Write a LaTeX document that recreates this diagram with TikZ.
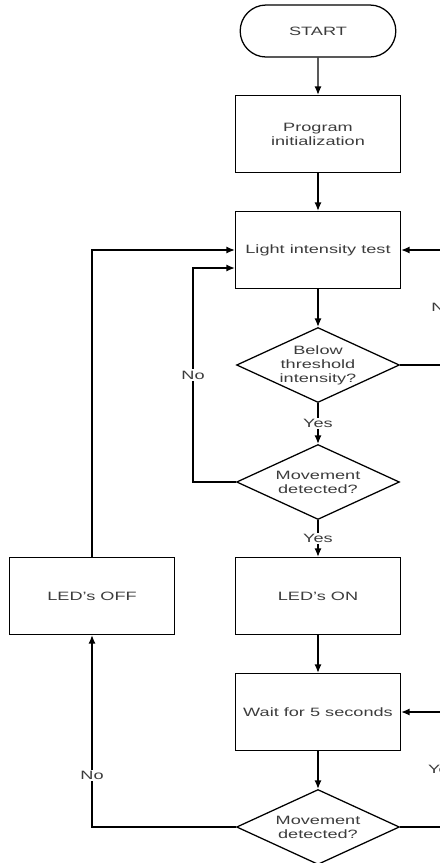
\documentclass[tikz,border=0pt]{standalone}
\usepackage{fontspec}
\setmainfont{Liberation Sans}[FakeStretch=1.5]
\usetikzlibrary{shapes.geometric,shapes.misc,arrows.meta}
\definecolor{txtgray}{HTML}{3C3C3C}
\begin{document}
\begin{tikzpicture}[x=0.025cm,y=-0.025cm,
	every node/.style={font=\fontsize{8.6}{10}\selectfont,text=txtgray,align=center},
	term/.style={draw,rounded rectangle,line width=0.9pt,minimum width=4.125cm,minimum height=1.3cm},
	proc/.style={draw,rectangle,line width=0.9pt,minimum width=4.125cm,minimum height=1.925cm},
	dec/.style={draw,diamond,aspect=2.17,line width=0.9pt,inner sep=-3pt,minimum width=4.07cm,minimum height=1.875cm},
	flow/.style={line width=0.9pt,-{Latex[length=6pt,width=5pt]}},
	lab/.style={fill=white,inner sep=1pt}]
	\useasboundingbox (0,0) rectangle (440,863);
	\clip (0,0) rectangle (440,863);
	\node[term] (start) at (318,31) {START};
	\node[proc] (init) at (318,134) {Program\\initialization};
	\node[proc] (light) at (318,250) {Light intensity test};
	\node[dec] (below) at (318,365) {Below\\threshold\\intensity?};
	\node[dec] (move1) at (318,482) {Movement\\detected?};
	\node[proc] (on) at (318,596) {LED's ON};
	\node[proc] (off) at (92,596) {LED's OFF};
	\node[proc] (wait) at (318,712) {Wait for 5 seconds};
	\node[dec] (move2) at (318,827) {Movement\\detected?};
	\coordinate (nobend) at (193,268);
	\coordinate (rtop) at (443,250);
	\coordinate (rbot) at (443,712);
	\draw[flow] (start) -- (init);
	\draw[flow] (init) -- (light);
	\draw[flow] (light) -- (below);
	\draw[flow] (below) -- node[lab] {Yes} (move1);
	\draw[flow] (below.east) -| node[lab,pos=0.75] {No} (rtop) -- (light.east);
	\draw[flow] (move1.west) -| node[lab,pos=0.75] {No} (nobend) -- (nobend -| light.west);
	\draw[flow] (move1) -- node[lab] {Yes} (on);
	\draw[flow] (on) -- (wait);
	\draw[flow] (wait) -- (move2);
	\draw[flow] (move2.east) -| node[lab,pos=0.75] {Yes} (rbot) -- (wait.east);
	\draw[flow] (move2.west) -| node[lab,pos=0.635] {No} (off.south);
	\draw[flow] (off.north) |- (light.west);
\end{tikzpicture}
\end{document}
